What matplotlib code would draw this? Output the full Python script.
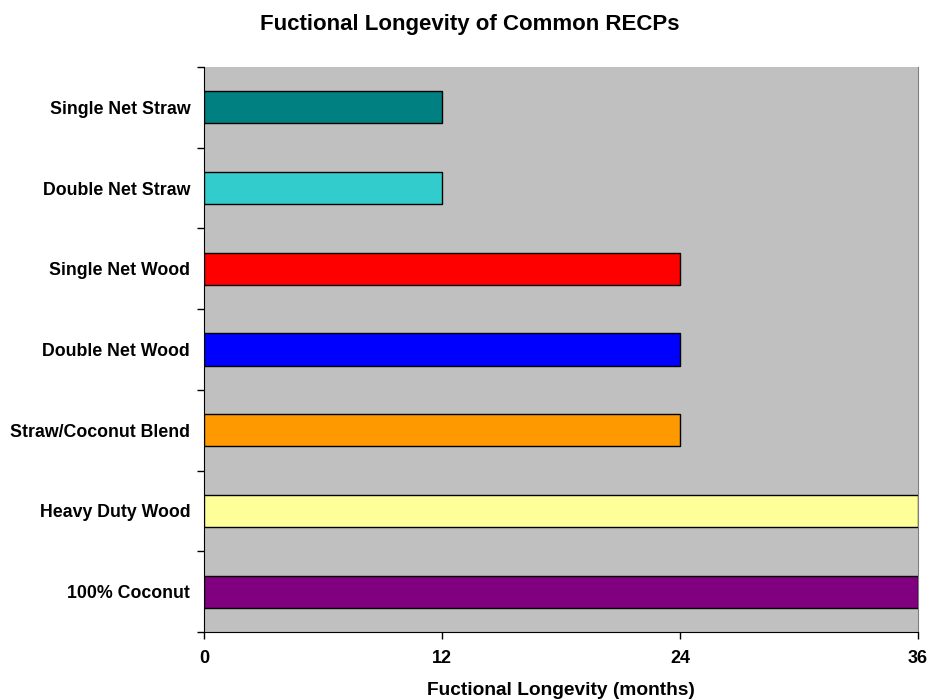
import matplotlib
matplotlib.use('Agg')
import matplotlib.pyplot as plt
from matplotlib.ticker import FixedLocator

plt.rcParams['font.family'] = ['Liberation Sans', 'DejaVu Sans']

# data, bottom to top
categories = ['100% Coconut', 'Heavy Duty Wood', 'Straw/Coconut Blend',
              'Double Net Wood', 'Single Net Wood', 'Double Net Straw',
              'Single Net Straw']
months = [36, 36, 24, 24, 24, 12, 12]
colors = ['#800080', '#FFFF99', '#FF9900', '#0000FF', '#FF0000',
          '#33CCCC', '#008080']
xticks = [0, 12, 24, 36]

fig = plt.figure(figsize=(9.27, 7.0), dpi=100)
ax = fig.add_axes([0.2201, 0.0971, 0.7702, 0.8072])
ax.set_facecolor('#C0C0C0')

pos = list(range(len(categories)))
ax.barh(pos, months, height=0.4, color=colors, edgecolor='black', linewidth=1.0, zorder=3)

ax.set_xlim(0, 36)
ax.set_ylim(-0.5, len(categories) - 0.5)
ax.set_xticks(xticks)
ax.set_xticklabels([str(t) for t in xticks], fontsize=13, fontweight='bold')
ax.set_yticks(pos)
ax.set_yticklabels(categories, fontsize=12.8, fontweight='bold')
ax.tick_params(axis='y', length=0, pad=10)
# tick marks sit between the categories
ax.yaxis.set_minor_locator(FixedLocator([p - 0.5 for p in pos] + [len(pos) - 0.5]))
ax.tick_params(axis='y', which='minor', length=5, direction='out', width=1)
ax.tick_params(axis='x', length=5, direction='out', width=1, pad=8)

ax.spines['right'].set_color('#808080')
ax.spines['right'].set_linewidth(0.8)
ax.spines['top'].set_visible(False)
ax.spines['left'].set_color('black')
ax.spines['bottom'].set_color('black')

ax.set_xlabel('Fuctional Longevity (months)', fontsize=13.8, fontweight='bold', labelpad=11)
fig.suptitle('Fuctional Longevity of Common RECPs', fontsize=16, fontweight='bold',
             x=0.507, y=0.98)

fig.savefig('out.png', dpi=100)
